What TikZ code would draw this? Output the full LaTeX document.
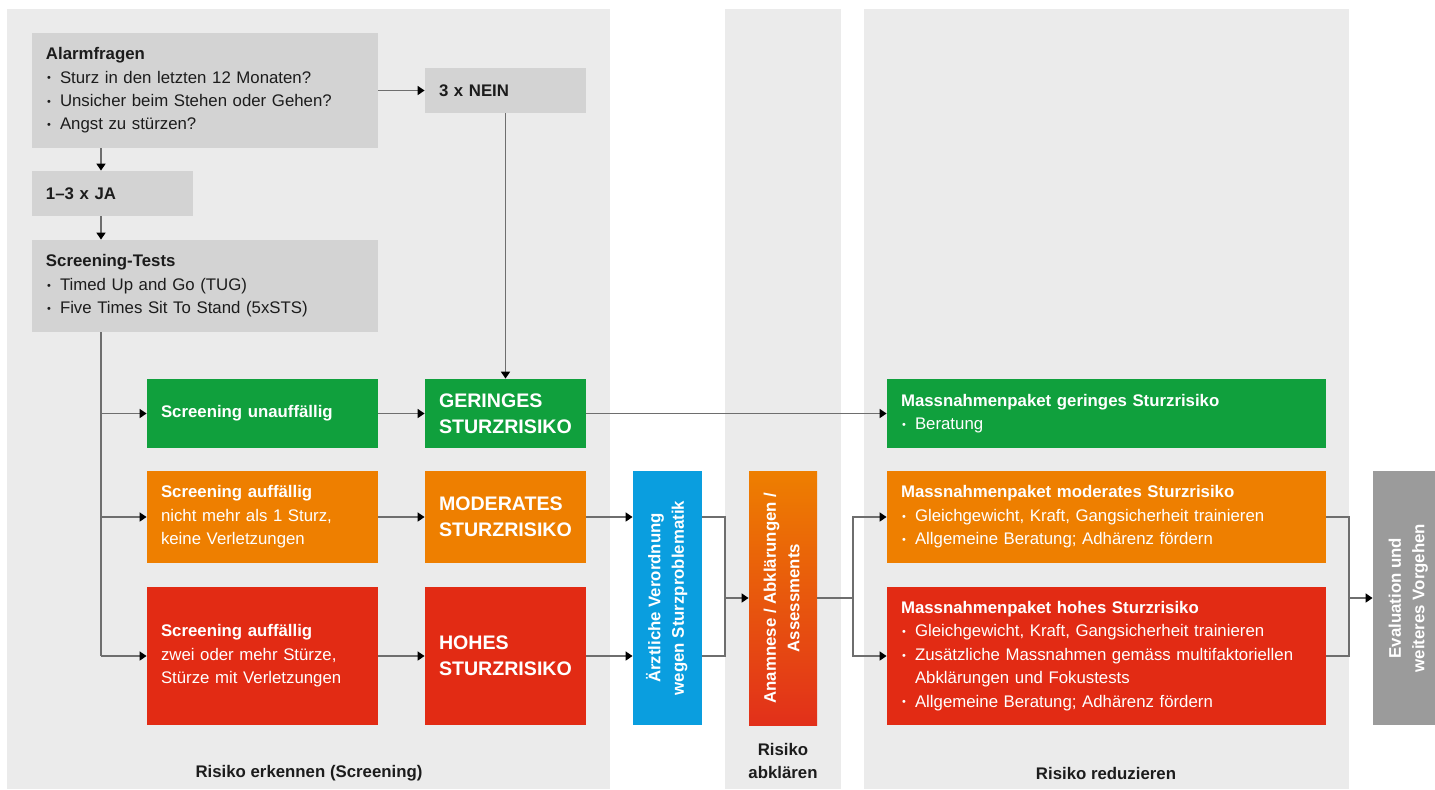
\documentclass[tikz,border=0pt]{standalone}
\usepackage{fontspec}
\setmainfont{Liberation Sans}
\usepackage{graphicx}
\usetikzlibrary{arrows.meta}

\definecolor{panelgray}{HTML}{EBEBEB}
\definecolor{boxgray}{HTML}{D3D3D3}
\definecolor{evalgray}{HTML}{9B9B9B}
\definecolor{riskgreen}{HTML}{10A03D}
\definecolor{riskorange}{HTML}{EE7F00}
\definecolor{riskred}{HTML}{E22B14}
\definecolor{docblue}{HTML}{0A9EDF}
\definecolor{assessred}{HTML}{E2301A}
\definecolor{linegray}{HTML}{6E6E6E}
\definecolor{inkdark}{HTML}{1C1C1C}

\newcommand{\bodyfont}{\fontsize{8.4}{11.7}\selectfont}
\newcommand{\riskfont}{\fontsize{9.8}{12.8}\selectfont\bfseries}
\newcommand{\bul}{\makebox[7pt][l]{\hspace{0.6pt}\raisebox{0.6pt}{\scalebox{0.65}{\textbullet}}}}
\newcommand{\vtext}[1]{\rotatebox{90}{\begin{tabular}{@{}c@{}}#1\end{tabular}}}

\begin{document}
\begin{tikzpicture}
[   x=0.5pt, y=-0.5pt,
    >={Triangle[length=3.5pt,width=4.5pt,color=black]},
    bx/.style={inner xsep=7pt, inner ysep=0pt, align=left, font=\bodyfont},
    graybox/.style={bx, fill=boxgray, text=inkdark},
    widebox/.style={text width=159pt, minimum width=173pt},
    narrowbox/.style={text width=66.5pt, minimum width=80.5pt},
    condbox/.style={text width=101.5pt, minimum width=115.5pt},
    packbox/.style={text width=205.5pt, minimum width=219.5pt},
    risk/.style={bx, narrowbox, fill=#1, text=white, font=\riskfont},
    cond/.style={bx, condbox, fill=#1, text=white},
    pack/.style={bx, packbox, fill=#1, text=white},
    vbox/.style={inner sep=0pt, minimum width=34.5pt, minimum height=127pt, text=white, font=\bodyfont\bfseries},
    conn/.style={draw=linegray, line width=0.75pt},
    caption/.style={font=\bodyfont\bfseries, text=inkdark, align=center},
]
\useasboundingbox (0,0) rectangle (1435,789);
\fill[panelgray] (7,9) rectangle (610,789);
\fill[panelgray] (725,9) rectangle (841,789);
\fill[panelgray] (864,9) rectangle (1349,789);

\node[graybox, widebox, minimum height=57.5pt] (alarm) at (205,90.5) {\textbf{Alarmfragen}\\\bul Sturz in den letzten 12 Monaten?\\\bul Unsicher beim Stehen oder Gehen?\\\bul Angst zu stürzen?};
\node[graybox, narrowbox, minimum height=22.5pt] (nein) at (505.5,90.5) {\textbf{3 x NEIN}};
\node[graybox, narrowbox, minimum height=22.5pt] (ja) at (112.5,193.5) {\textbf{1--3 x JA}};
\node[graybox, widebox, minimum height=46pt] (tests) at (205,286) {\textbf{Screening-Tests}\\\bul Timed Up and Go (TUG)\\\bul Five Times Sit To Stand (5xSTS)};

\node[cond=riskgreen, minimum height=34.5pt] (unauff) at (262.5,413.5) {\textbf{Screening unauffällig}};
\node[cond=riskorange, minimum height=46pt] (auffmod) at (262.5,517) {\textbf{Screening auffällig}\\nicht mehr als 1 Sturz,\\keine Verletzungen};
\node[cond=riskred, minimum height=69pt] (auffhoch) at (262.5,656) {\textbf{Screening auffällig}\\zwei oder mehr Stürze,\\Stürze mit Verletzungen};

\node[risk=riskgreen, minimum height=34.5pt] (gering) at (505.5,413.5) {GERINGES\\STURZRISIKO};
\node[risk=riskorange, minimum height=46pt] (moderat) at (505.5,517) {MODERATES\\STURZRISIKO};
\node[risk=riskred, minimum height=69pt] (hoch) at (505.5,656) {HOHES\\STURZRISIKO};

\node[vbox, fill=docblue] (arzt) at (667.5,598) {\vtext{Ärztliche Verordnung\\wegen Sturzproblematik}};
\node[vbox, minimum width=34pt, top color=riskorange, bottom color=assessred] (anam) at (783,598) {\vtext{Anamnese / Abklärungen /\\Assessments}};

\node[pack=riskgreen, minimum height=34.5pt] (pgering) at (1106.5,413.5) {\textbf{Massnahmenpaket geringes Sturzrisiko}\\\bul Beratung};
\node[pack=riskorange, minimum height=46pt] (pmoderat) at (1106.5,517) {\textbf{Massnahmenpaket moderates Sturzrisiko}\\\bul Gleichgewicht, Kraft, Gangsicherheit trainieren\\\bul Allgemeine Beratung; Adhärenz fördern};
\node[pack=riskred, minimum height=69pt] (phoch) at (1106.5,656) {\textbf{Massnahmenpaket hohes Sturzrisiko}\\\bul Gleichgewicht, Kraft, Gangsicherheit trainieren\\\bul Zusätzliche Massnahmen gemäss multifaktoriellen\\\hspace*{7pt}Abklärungen und Fokustests\\\bul Allgemeine Beratung; Adhärenz fördern};

\node[vbox, minimum width=35pt, fill=evalgray] (eval) at (1408,598) {\vtext{Evaluation und\\weiteres Vorgehen}};

\node[caption] (cap1) at (309,773) {Risiko erkennen (Screening)};
\node[caption] (cap2) at (783,761) {Risiko\\abklären};
\node[caption] (cap3) at (1106,773) {Risiko reduzieren};

\coordinate (spine) at (101,0);
\coordinate (join1) at (725,598);
\coordinate (fork) at (853,598);
\coordinate (join2) at (1349,598);

\draw[conn, ->] (alarm.east) -- (nein.west);
\draw[conn, ->] (nein.south) -- (gering.north);
\draw[conn, ->] (alarm.south -| spine) -- (ja.north -| spine);
\draw[conn, ->] (ja.south -| spine) -- (tests.north -| spine);
\draw[conn] (tests.south -| spine) -- (auffhoch.west -| spine);
\foreach \n in {unauff, auffmod, auffhoch}
    \draw[conn, ->] (\n.west -| spine) -- (\n.west);

\draw[conn, ->] (unauff) -- (gering);
\draw[conn, ->] (auffmod) -- (moderat);
\draw[conn, ->] (auffhoch) -- (hoch);
\draw[conn, ->] (gering) -- (pgering);

\draw[conn, ->] (moderat.east) -- (moderat.east -| arzt.west);
\draw[conn, ->] (hoch.east) -- (hoch.east -| arzt.west);
\draw[conn] (arzt.east |- moderat.east) -| (join1);
\draw[conn] (arzt.east |- hoch.east) -| (join1);
\draw[conn, ->] (join1) -- (anam.west);

\draw[conn] (anam.east) -- (fork);
\draw[conn, ->] (fork) |- (pmoderat.west);
\draw[conn, ->] (fork) |- (phoch.west);

\draw[conn] (pmoderat.east) -| (join2);
\draw[conn] (phoch.east) -| (join2);
\draw[conn, ->] (join2) -- (eval.west);

\end{tikzpicture}
\end{document}
